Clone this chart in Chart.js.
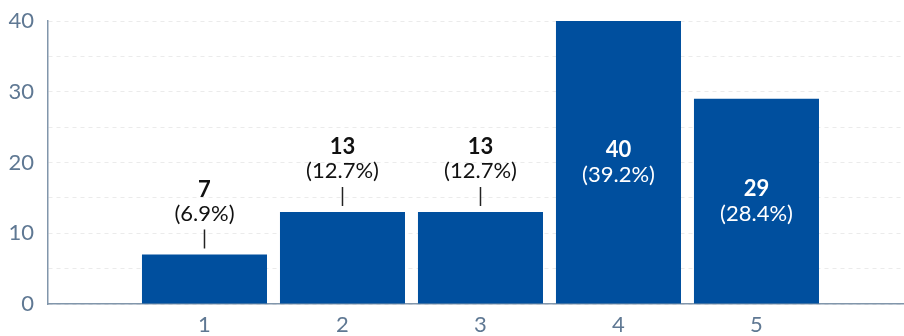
<!DOCTYPE html>
<html>
<head>
<meta charset="utf-8">
<script src="https://cdn.jsdelivr.net/npm/chart.js@4"></script>
<style>
  html, body { margin: 0; padding: 0; background: #fff; }
  #wrap { width: 904px; height: 336px; }
</style>
</head>
<body>
<div id="wrap"><canvas id="barChart"></canvas></div>
<script>
const categories = [1, 2, 3, 4, 5];
const counts = [7, 13, 13, 40, 29];
const yTicks = [0, 10, 20, 30, 40];

const total = counts.reduce((a, b) => a + b, 0);
const percents = counts.map((v) => ((v / total) * 100).toFixed(1) + "%");

const FONT = "Lato, 'Noto Sans', sans-serif";

// draws "value (pct)" above short bars, inside tall ones
const barLabels = {
  id: "barLabels",
  afterDatasetsDraw(chart) {
    const ctx = chart.ctx;
    const meta = chart.getDatasetMeta(0);
    ctx.save();
    ctx.textAlign = "center";
    ctx.textBaseline = "middle";
    meta.data.forEach((bar, i) => {
      const h = bar.base - bar.y;
      const inside = h > 120;
      let vy, py;
      if (inside) {
        const mid = (bar.y + bar.base) / 2;
        vy = mid - 12;
        py = mid + 13;
        ctx.fillStyle = "#ffffff";
      } else {
        vy = bar.y - 65;
        py = bar.y - 41;
        ctx.fillStyle = "#111111";
        ctx.strokeStyle = "#222222";
        ctx.lineWidth = 1.5;
        ctx.beginPath();
        ctx.moveTo(bar.x, bar.y - 25);
        ctx.lineTo(bar.x, bar.y - 6);
        ctx.stroke();
      }
      ctx.font = "bold 22px " + FONT;
      ctx.fillText(String(counts[i]), bar.x, vy);
      ctx.font = "22px " + FONT;
      ctx.fillText("(" + percents[i] + ")", bar.x, py);
    });
    ctx.restore();
  },
};

const ctx = document.getElementById("barChart").getContext("2d");
new Chart(ctx, {
  type: "bar",
  data: {
    datasets: [
      {
        data: categories.map((c, i) => ({ x: c, y: counts[i] })),
        backgroundColor: "#004f9e",
        borderWidth: 0,
        barPercentage: 0.906,
        categoryPercentage: 1,
      },
    ],
  },
  options: {
    responsive: true,
    maintainAspectRatio: false,
    animation: false,
    layout: { padding: { top: 0, left: 8, right: 0, bottom: 0 } },
    plugins: { legend: { display: false }, tooltip: { enabled: false } },
    scales: {
      x: {
        type: "linear",
        offset: false,
        min: -0.134,
        max: 6.069,
        afterBuildTicks: (scale) => {
          scale.ticks = categories.map((c) => ({ value: c }));
        },
        afterFit: (scale) => {
          scale.height = 32;
          scale.paddingLeft = 0;
          scale.paddingRight = 0;
        },
        grid: { display: false, drawTicks: false },
        border: { display: true, color: "#8196ab", width: 1.5 },
        ticks: {
          padding: 8,
          color: "#5f7893",
          font: { family: FONT, size: 22 },
          callback: (v) => String(v),
        },
      },
      y: {
        min: 0,
        max: 40,
        afterFit: (scale) => {
          scale.width = 40;
          scale.paddingTop = 21;
        },
        grid: { color: "#ebebeb", lineWidth: 1, drawTicks: false },
        border: { display: true, color: "#8196ab", width: 1.5, dash: [4, 4] },
        ticks: {
          stepSize: 5,
          padding: 14,
          color: "#5f7893",
          font: { family: FONT, size: 22 },
          callback: (v) => (yTicks.includes(v) ? String(v) : ""),
        },
      },
    },
  },
  plugins: [barLabels],
});
</script>
</body>
</html>
